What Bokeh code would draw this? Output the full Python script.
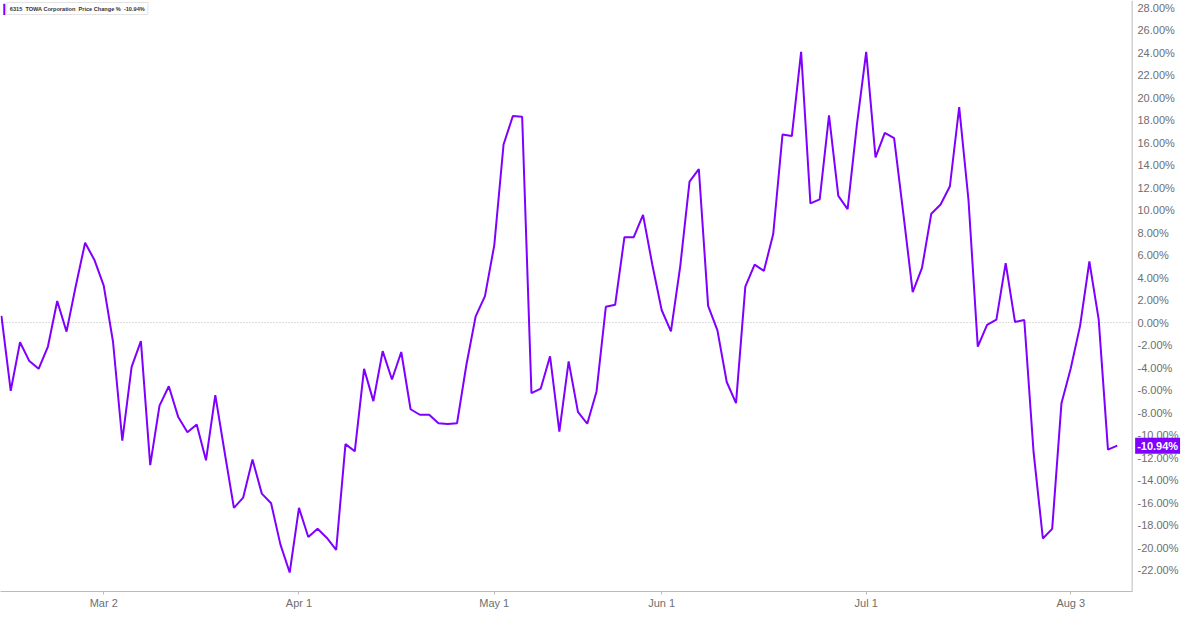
from bokeh.plotting import figure
from bokeh.models import (ColumnDataSource, FixedTicker, PrintfTickFormatter,
                          Span, Label, BoxAnnotation)
from bokeh.embed import file_html
from bokeh.resources import INLINE

# daily price change % of 6315 TOWA Corporation (one value per trading day)
change = [
    0.6, -6.06, -1.75, -3.42, -4.11, -2.13, 1.92, -0.8, 3.28, 7.1,
    5.57, 3.28, -1.7, -10.5, -3.94, -1.64, -12.67, -7.38, -5.66, -8.36,
    -9.74, -9.05, -12.24, -6.44, -11.5, -16.47, -15.55, -12.16, -15.2, -16.06,
    -19.71, -22.21, -16.47, -19.05, -18.33, -19.14, -20.2, -10.8, -11.44, -4.11,
    -6.98, -2.53, -5.06, -2.61, -7.7, -8.19, -8.19, -8.94, -9.02, -8.94,
    -3.77, 0.55, 2.36, 6.87, 15.83, 18.36, 18.3, -6.26, -5.86, -2.99,
    -9.7, -3.45, -7.93, -8.99, -6.12, 1.41, 1.58, 7.59, 7.59, 9.57,
    5.14, 1.12, -0.78, 5.0, 12.53, 13.65, 1.49, -0.69, -5.28, -7.16,
    3.2, 5.15, 4.6, 7.87, 16.72, 16.58, 24.07, 10.6, 10.95, 18.42,
    11.27, 10.09, 17.6, 24.07, 14.68, 16.87, 16.4, 9.65, 2.7, 4.86,
    9.68, 10.5, 12.12, 19.15, 10.9, -2.13, -0.2, 0.26, 5.29, 0.06,
    0.23, -11.52, -19.19, -18.33, -7.16, -4.05, -0.29, 5.43, 0.29, -11.29,
    -10.94,
]
day = list(range(len(change)))

date_ticks = [11, 32, 53, 71, 93, 115]
date_labels = ["Mar 2", "Apr 1", "May 1", "Jun 1", "Jul 1", "Aug 3"]
pct_ticks = list(range(-22, 29, 2))

last_value = change[-1]
line_color = "#7f00ff"
grey = "#6e6e6e"
axis_grey = "#bbbbbb"

x_start = -0.1
x_axis_end = 121.6   # where the price axis line sits
x_end = 126.8        # frame runs on past it so the price labels sit inside

source = ColumnDataSource(data=dict(index=day, change=change))

p = figure(width=1184, height=611, x_range=(x_start, x_end), y_range=(-23.9, 28.63),
           y_axis_location="right", toolbar_location=None, output_backend="svg",
           min_border_left=0, min_border_top=0, min_border_bottom=0, min_border_right=4)
p.outline_line_color = None
p.xgrid.visible = False
p.ygrid.visible = False

# zero line, only as far as the price axis
p.segment(x0=[x_start], x1=[x_axis_end], y0=[0], y1=[0], line_color="#b4b4b4",
          line_width=1, line_dash="1 2")

p.line(source=source, x='index', y='change', line_width=2, color=line_color)

# price axis line
p.add_layout(Span(location=x_axis_end, dimension='height', line_color=axis_grey,
                  line_width=1))

p.xaxis.ticker = FixedTicker(ticks=date_ticks)
p.xaxis.major_label_overrides = dict(zip(date_ticks, date_labels))
p.xaxis.bounds = (x_start, x_axis_end)
p.yaxis.ticker = FixedTicker(ticks=pct_ticks)
p.yaxis.formatter = PrintfTickFormatter(format="%.2f%%")

for ax in (p.xaxis, p.yaxis):
    ax.axis_line_color = axis_grey
    ax.major_tick_line_color = axis_grey
    ax.major_tick_out = 3
    ax.major_tick_in = 0
    ax.minor_tick_line_color = None
    ax.major_label_text_color = grey
    ax.major_label_text_font = "Liberation Sans"
    ax.major_label_text_font_size = "11px"
    ax.major_label_standoff = 2

# price labels drawn back over the frame, next to the axis line
p.yaxis.axis_line_color = None
p.yaxis.major_tick_line_color = None
p.yaxis.major_tick_out = 0
p.yaxis.major_label_standoff = -43

# last value marker on the price axis
last = Label(x=x_axis_end, y=last_value, x_offset=3, text="%.2f%%" % last_value,
             text_baseline="middle", text_align="left", text_color="white",
             text_font="Liberation Sans", text_font_style="bold", text_font_size="11px",
             background_fill_color=line_color, padding=2)
p.add_layout(last)

# header box, top left
sp = "\u00a0\u00a0"
header = Label(x=0.15, y=28.45,
               text="6315" + sp + "TOWA Corporation" + sp + "Price Change %" + sp + "-10.94%",
               text_baseline="top", text_align="left", text_color="#333333",
               text_font="Liberation Sans", text_font_style="bold", text_font_size="5.6px",
               x_offset=4, background_fill_color="white", border_line_color="#e3e3e3",
               padding=3)
p.add_layout(header)
p.add_layout(BoxAnnotation(left=0.2, right=0.42, top=28.35, bottom=27.35,
                           fill_color=line_color, fill_alpha=1, line_color=None))

open("out.html", "w").write(file_html(p, INLINE))
